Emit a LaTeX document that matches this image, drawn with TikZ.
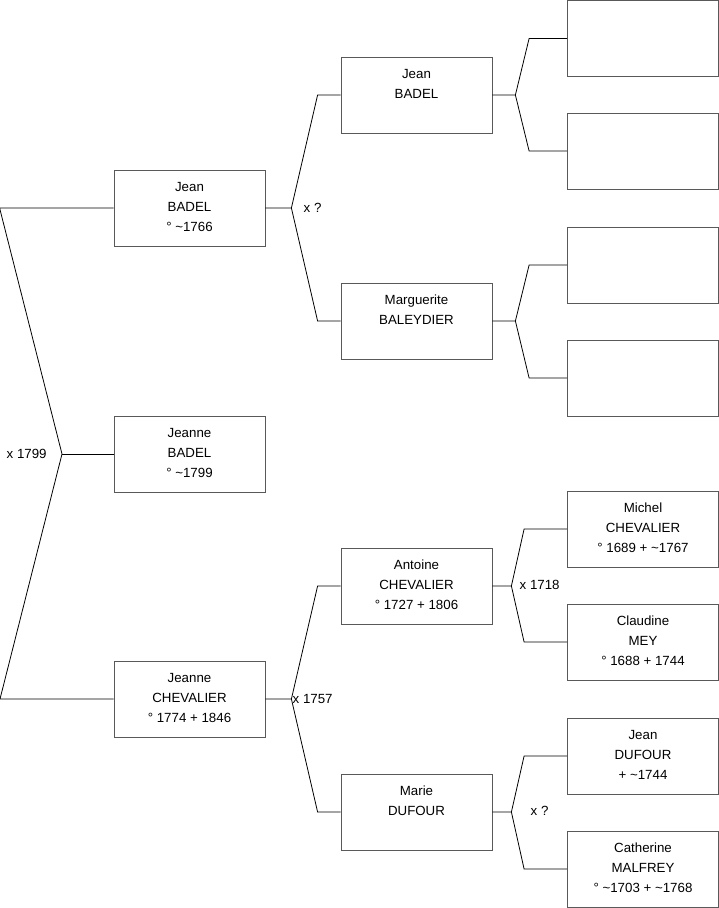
\documentclass[tikz,border=0pt]{standalone}
\usepackage{fontspec}
\setmainfont{Liberation Sans}
\usetikzlibrary{positioning}
\tikzset{
  person/.style={draw=black!65,line width=.8pt,minimum width=151pt,minimum height=76pt,inner sep=0pt},
  link/.style={draw=black,line width=.8pt},
  wed/.style={inner sep=0pt,anchor=west},
}
\newcommand{\pcard}[1]{\parbox[c][76pt][t]{151pt}{\centering\rule{0pt}{21pt}#1}}

\begin{document}
\begin{tikzpicture}[x=1pt,y=-1pt,font=\fontsize{13.3}{20}\selectfont]
  \useasboundingbox (0,0) rectangle (719,908);
  % generation 1
  \node[person] (jean1) at (189.5,208) {\pcard{Jean\\BADEL\\° \textasciitilde1766}};
  \node[person] (jeanne) at (189.5,454) {\pcard{Jeanne\\BADEL\\° \textasciitilde1799}};
  \node[person] (chev1) at (189.5,699) {\pcard{Jeanne\\CHEVALIER\\° 1774 + 1846}};
  % generation 2
  \node[person] (jean2) at (416.5,95) {\pcard{Jean\\BADEL}};
  \node[person] (marg) at (416.5,321) {\pcard{Marguerite\\BALEYDIER}};
  \node[person] (anto) at (416.5,586) {\pcard{Antoine\\CHEVALIER\\° 1727 + 1806}};
  \node[person] (marie) at (416.5,812) {\pcard{Marie\\DUFOUR}};
  % generation 3
  \node[person] (ga) at (643,38.5) {};
  \node[person] (gb) at (643,151) {};
  \node[person] (gc) at (643,265) {};
  \node[person] (gd) at (643,378) {};
  \node[person] (mich) at (643,529) {\pcard{Michel\\CHEVALIER\\° 1689 + \textasciitilde1767}};
  \node[person] (clau) at (643,642) {\pcard{Claudine\\MEY\\° 1688 + 1744}};
  \node[person] (jean3) at (643,756) {\pcard{Jean\\DUFOUR\\+ \textasciitilde1744}};
  \node[person] (cath) at (643,869) {\pcard{Catherine\\MALFREY\\° \textasciitilde1703 + \textasciitilde1768}};

  % marriages
  \node[wed] (w0) at (6.5,454) {x 1799};
  \node[wed] (w1) at (303.5,208) {x ?};
  \node[wed] (w2) at (292.5,699) {x 1757};
  \node[wed] (w3) at (519.5,585) {x 1718};
  \node[wed] (w4) at (530.5,811) {x ?};

  % links
  \coordinate (j0) at (62,454);
  \draw[link] (jean1.west) -- ++(-114,0) coordinate (l1) -- (j0) -- ++(-62,245) coordinate (l2) -- (chev1.west);
  \draw[link] (j0) -- (jeanne.west);

  \draw[link] (jean1.east) -- ++(26,0) coordinate (k1) -- ([xshift=-23pt]jean2.west) -- (jean2.west);
  \draw[link] (k1) -- ([xshift=-23pt]marg.west) -- (marg.west);
  \draw[link] (chev1.east) -- ++(26,0) coordinate (k2) -- ([xshift=-23pt]anto.west) -- (anto.west);
  \draw[link] (k2) -- ([xshift=-23pt]marie.west) -- (marie.west);

  \draw[link] (jean2.east) -- ++(23,0) coordinate (k3) -- ([xshift=-38pt]ga.west) -- (ga.west);
  \draw[link] (k3) -- ([xshift=-38pt]gb.west) -- (gb.west);
  \draw[link] (marg.east) -- ++(23,0) coordinate (k4) -- ([xshift=-38pt]gc.west) -- (gc.west);
  \draw[link] (k4) -- ([xshift=-38pt]gd.west) -- (gd.west);
  \draw[link] (anto.east) -- ++(19,0) coordinate (k5) -- ([xshift=-43pt]mich.west) -- (mich.west);
  \draw[link] (k5) -- ([xshift=-43pt]clau.west) -- (clau.west);
  \draw[link] (marie.east) -- ++(19,0) coordinate (k6) -- ([xshift=-43pt]jean3.west) -- (jean3.west);
  \draw[link] (k6) -- ([xshift=-43pt]cath.west) -- (cath.west);
\end{tikzpicture}
\end{document}
